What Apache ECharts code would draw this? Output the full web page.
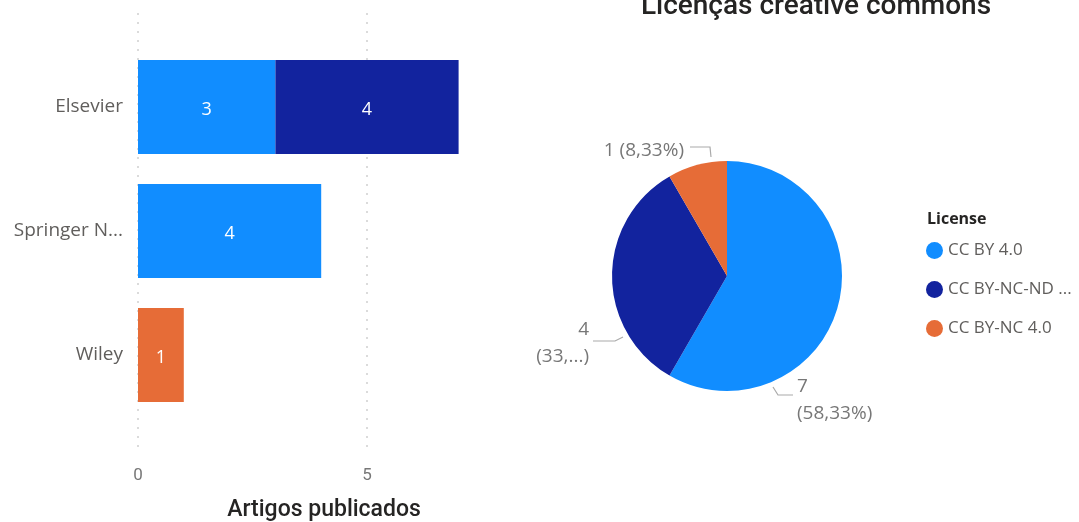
<!DOCTYPE html>
<html>
<head>
<meta charset="utf-8">
<script src="https://cdn.jsdelivr.net/npm/echarts@6/dist/echarts.min.js"></script>
<style>
  html, body { margin: 0; padding: 0; background: #fff; }
  #chart { width: 1079px; height: 522px; }
</style>
</head>
<body>
<div id="chart"></div>
<script>
// editoras (eixo y) e licenças
var publishers = ["Elsevier", "Springer N...", "Wiley"];
var licenses = ["CC BY 4.0", "CC BY-NC-ND 4.0", "CC BY-NC 4.0"];
// artigos por editora, uma lista por licença
var ccBy = [3, 4, null];
var ccByNcNd = [4, null, null];
var ccByNc = [null, null, 1];
// totais por licença (pizza)
var licenseTotals = [7, 4, 1];
var xTicks = [0, 5];

var colors = ["#118DFF", "#12239E", "#E66C37"];
var font = "'Open Sans', 'Noto Sans', sans-serif";
var total = licenseTotals.reduce(function (a, b) { return a + b; }, 0);

var chart = echarts.init(document.getElementById("chart"));

function barSeries(name, data) {
  return {
    name: name,
    type: "bar",
    stack: "total",
    xAxisIndex: 0,
    yAxisIndex: 0,
    barWidth: 94,
    data: data,
    label: {
      show: true,
      position: "inside",
      offset: [0, 3],
      color: "#fff",
      fontSize: 18,
      fontFamily: font
    }
  };
}

function pct(v) {
  return (v / total * 100).toFixed(2).replace(".", ",") + "%";
}

var pieData = licenses.map(function (name, i) {
  return { name: name, value: licenseTotals[i] };
});

// posição dos rótulos da pizza (como no Power BI)
var pieLabelPos = [
  { x: 797, y: 373, align: "left", labelLinePoints: [[773, 387], [778, 395], [793, 395]] },
  { x: 589, y: 316, align: "right", labelLinePoints: [[623, 337], [615, 341], [593, 341]] },
  { x: 684, y: 151, align: "right", labelLinePoints: [[711, 157], [710, 147], [690, 147]] }
];

var option = {
  color: colors,
  animation: false,
  title: [
    {
      text: "Licenças creative commons",
      left: 811,
      top: -12,
      textAlign: "center",
      textStyle: { fontSize: 28, fontWeight: 500, color: "#252423", fontFamily: "Roboto, sans-serif" }
    },
    {
      text: "Artigos publicados",
      left: 319,
      top: 494,
      textAlign: "center",
      textStyle: { fontSize: 23, fontWeight: 500, color: "#252423", fontFamily: "Roboto, sans-serif" }
    },
    {
      text: "License",
      left: 922,
      top: 206,
      textStyle: { fontSize: 16, fontWeight: "bold", color: "#252423", fontFamily: font }
    }
  ],
  legend: {
    data: licenses,
    orient: "vertical",
    left: 921,
    top: 237,
    itemGap: 22,
    icon: "circle",
    itemWidth: 17,
    itemHeight: 17,
    textStyle: {
      fontSize: 17,
      color: "#605E5C",
      fontFamily: font,
      width: 130,
      overflow: "truncate",
      ellipsis: "..."
    }
  },
  grid: [
    { left: 138, width: 320.6, top: 45, height: 372 },
    { left: 138, width: 320.6, top: 13, height: 437 }
  ],
  xAxis: [
    { gridIndex: 0, type: "value", min: 0, max: 7, show: false },
    {
      gridIndex: 1,
      type: "value",
      min: xTicks[0],
      max: 7,
      interval: xTicks[1] - xTicks[0],
      axisLine: { show: false },
      axisTick: { show: false },
      axisLabel: { showMaxLabel: false, margin: 17, fontSize: 17, color: "#777", fontFamily: "Roboto, sans-serif" },
      splitLine: {
        show: true,
        showMaxLine: false,
        lineStyle: { type: [2, 7], color: "#cfcfcf", width: 1.5 }
      }
    }
  ],
  yAxis: [
    {
      gridIndex: 0,
      type: "category",
      inverse: true,
      data: publishers,
      axisLine: { show: false },
      axisTick: { show: false },
      axisLabel: { margin: 15, fontSize: 19, color: "#605E5C", fontFamily: font }
    },
    { gridIndex: 1, type: "value", min: 0, max: 1, show: false }
  ],
  series: [
    barSeries(licenses[0], ccBy),
    barSeries(licenses[1], ccByNcNd),
    barSeries(licenses[2], ccByNc),
    {
      name: "License",
      type: "pie",
      center: [727, 276],
      radius: 115,
      startAngle: 90,
      clockwise: true,
      data: pieData,
      label: {
        show: true,
        color: "#777",
        fontSize: 19,
        fontFamily: font,
        lineHeight: 27,
        formatter: function (p) {
          if (p.dataIndex === 2) return p.value + " (" + pct(p.value) + ")";
          if (p.dataIndex === 1) return p.value + "\n(33,...)";
          return p.value + "\n(" + pct(p.value) + ")";
        }
      },
      labelLine: { show: true, lineStyle: { color: "#aaa", width: 1.2 } },
      labelLayout: function (params) {
        var pos = pieLabelPos[params.dataIndex];
        return {
          x: pos.x,
          y: pos.y,
          align: pos.align,
          verticalAlign: params.dataIndex === 2 ? "middle" : "top",
          labelLinePoints: pos.labelLinePoints
        };
      },
      emphasis: { scale: false }
    }
  ]
};

chart.setOption(option);
</script>
</body>
</html>
